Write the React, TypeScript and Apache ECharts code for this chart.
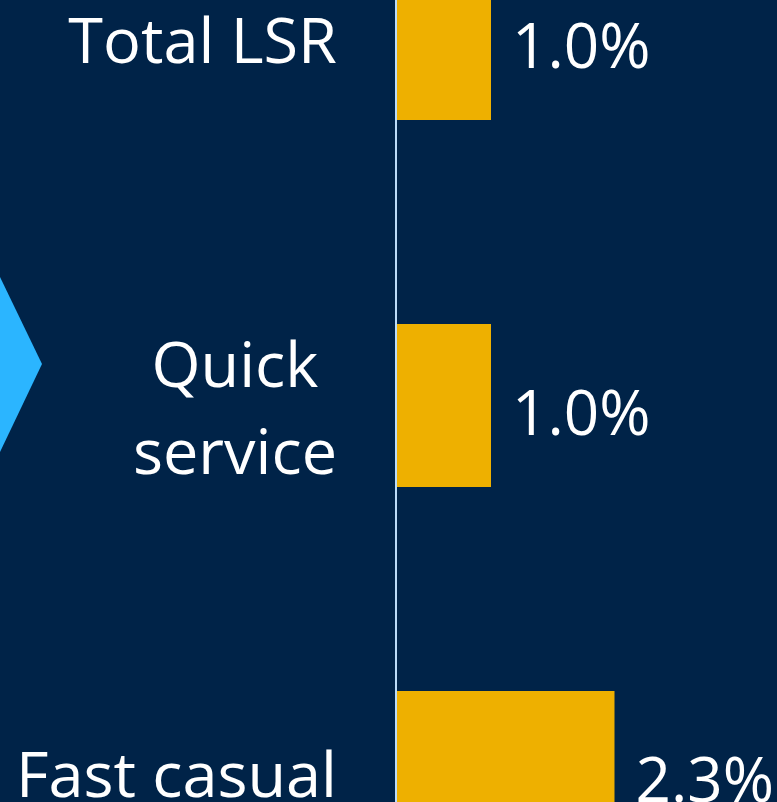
import React, { useEffect, useRef } from "react";
import * as echarts from "echarts";

const categories = ["Total LSR", "Quick\nservice", "Fast casual"];
const values = [1.0, 1.0, 2.3];
const valueLabels = ["1.0%", "1.0%", "2.3%"];

const BG = "#002348";
const BAR = "#EEB000";
const ARROW = "#2BB5FF";
const AXIS = "#BCDCF8";
const FONT = "'Open Sans', 'Noto Sans', sans-serif";

const SHIFT = 145;

export default function App() {
  const ref = useRef<HTMLDivElement>(null);
  useEffect(() => {
    if (!ref.current) return;
    const chart = echarts.init(ref.current, undefined, { renderer: "svg" });
    chart.setOption({
      animation: false,
      backgroundColor: BG,
      grid: { left: 396, width: 380, top: 0, height: 1101, containLabel: false },
      xAxis: {
        type: "value",
        min: 0,
        max: 4,
        show: false,
      },
      yAxis: {
        type: "category",
        data: categories,
        inverse: true,
        z: 5,
        axisLine: { show: true, lineStyle: { color: AXIS, width: 2 } },
        axisTick: { show: false },
        splitLine: { show: false },
        axisLabel: {
          margin: 59,
          color: "#ffffff",
          fontFamily: FONT,
          fontSize: 63,
          lineHeight: 87,
          formatter: (v: string) =>
            v
              .split("\n")
              .map((s) => `{a|${s}}`)
              .join("\n"),
          rich: {
            a: {
              align: "center",
              color: "#ffffff",
              fontFamily: FONT,
              fontSize: 63,
              lineHeight: 87,
            },
          },
        },
      },
      series: [
        {
          type: "bar",
          data: values,
          barWidth: 163,
          itemStyle: { color: BAR },
          label: {
            show: true,
            position: "right",
            distance: 21,
            offset: [0, 5],
            color: "#ffffff",
            fontFamily: FONT,
            fontSize: 62,
            formatter: (p: any) => valueLabels[p.dataIndex],
          },
        },
      ],
      graphic: [
        {
          type: "polygon",
          shape: {
            points: [
              [0, 277 + SHIFT],
              [42, 364 + SHIFT],
              [0, 452 + SHIFT],
            ],
          },
          style: { fill: ARROW },
        },
      ],
    });
    return () => chart.dispose();
  }, []);
  return (
    <div
      style={{
        position: "absolute",
        left: 0,
        top: 0,
        width: 777,
        height: 802,
        overflow: "hidden",
        background: BG,
      }}
    >
      <div
        ref={ref}
        style={{ position: "absolute", left: 0, top: -SHIFT, width: 777, height: 1101 }}
      />
    </div>
  );
}
